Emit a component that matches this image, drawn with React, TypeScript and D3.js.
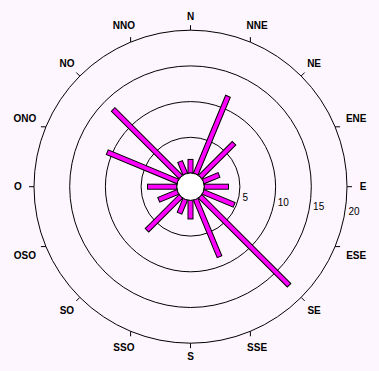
import React from "react";
import * as d3 from "d3";

const directions = ["N", "NNE", "NE", "ENE", "E", "ESE", "SE", "SSE", "S", "SSO", "SO", "OSO", "O", "ONO", "NO", "NNO"];
const values = [1.9, 11.8, 6.7, 2.4, 3.4, 4.7, 17.6, 8.7, 2.6, 2.1, 6.7, 2.9, 4.1, 10.7, 13.4, 1.9];
const ringTicks = [5, 10, 15, 20];

const W = 379;
const H = 371;
const cx = 190.5;
const cy = 186.7;

export default function App() {
  const r = d3.scaleLinear().domain([0, 20]).range([13.7, 156.5]);
  const ang = d3.scaleBand<string>().domain(directions).range([0, 360]).align(0);
  const angleOf = (d: string) => ang(d) as number;
  const rad = (deg: number) => (deg * Math.PI) / 180;
  const lblAng = rad(8);
  const barW = 5;
  const charW = 7.2;

  return (
    <svg width={W} height={H} style={{ position: "absolute", left: 0, top: 0, background: "#FEF6FE" }}>
      <rect x={0} y={0} width={W} height={H} fill="#FEF6FE" />
      <g transform={`translate(${cx},${cy})`}>
        {ringTicks.map((t) => (
          <circle key={t} r={r(t)} fill="none" stroke="#000" strokeWidth={1} />
        ))}
        {directions.map((d) => {
          const a = rad(angleOf(d));
          const s = Math.sin(a);
          const c = -Math.cos(a);
          const x1 = s * r(20);
          const y1 = c * r(20);
          let dx = s * 5;
          let dy = c * 5;
          if (Math.abs(s) < 0.5) {
            dx = 0;
            dy = Math.sign(c) * 5;
          } else if (Math.abs(s) > 0.85) {
            dx = Math.sign(s) * 5;
            dy = 0;
          }
          return <line key={"t" + d} x1={x1} y1={y1} x2={x1 + dx} y2={y1 + dy} stroke="#000" strokeWidth={1} />;
        })}
        {directions.map((d) => {
          const a = rad(angleOf(d));
          const s = Math.sin(a);
          const c = -Math.cos(a);
          const halfW = (d.length * charW) / 2;
          const lr = 169 + halfW * Math.abs(s) + 1 * Math.abs(c);
          return (
            <text
              key={"l" + d}
              x={s * lr}
              y={c * lr}
              textAnchor="middle"
              dominantBaseline="central"
              fontFamily="'Liberation Sans', Arial, sans-serif"
              fontWeight="bold"
              fontSize={10}
              fill="#000"
            >
              {d}
            </text>
          );
        })}
        {directions.map((d, i) => (
          <rect
            key={"b" + d}
            x={-barW / 2}
            y={-r(values[i])}
            width={barW}
            height={r(values[i]) - r(0)}
            fill="#FF00FF"
            stroke="#000"
            strokeWidth={1}
            transform={`rotate(${angleOf(d)})`}
          />
        ))}
        <circle r={r(0)} fill="#FFFFFF" stroke="#000" strokeWidth={1} />
        {ringTicks.map((t) => (
          <text
            key={"rt" + t}
            x={Math.cos(lblAng) * r(t) + 3}
            y={Math.sin(lblAng) * r(t) + 3.5}
            textAnchor="start"
            dominantBaseline="central"
            fontFamily="'Liberation Sans', Arial, sans-serif"
            fontSize={10}
            fill="#000"
          >
            {t}
          </text>
        ))}
      </g>
    </svg>
  );
}
